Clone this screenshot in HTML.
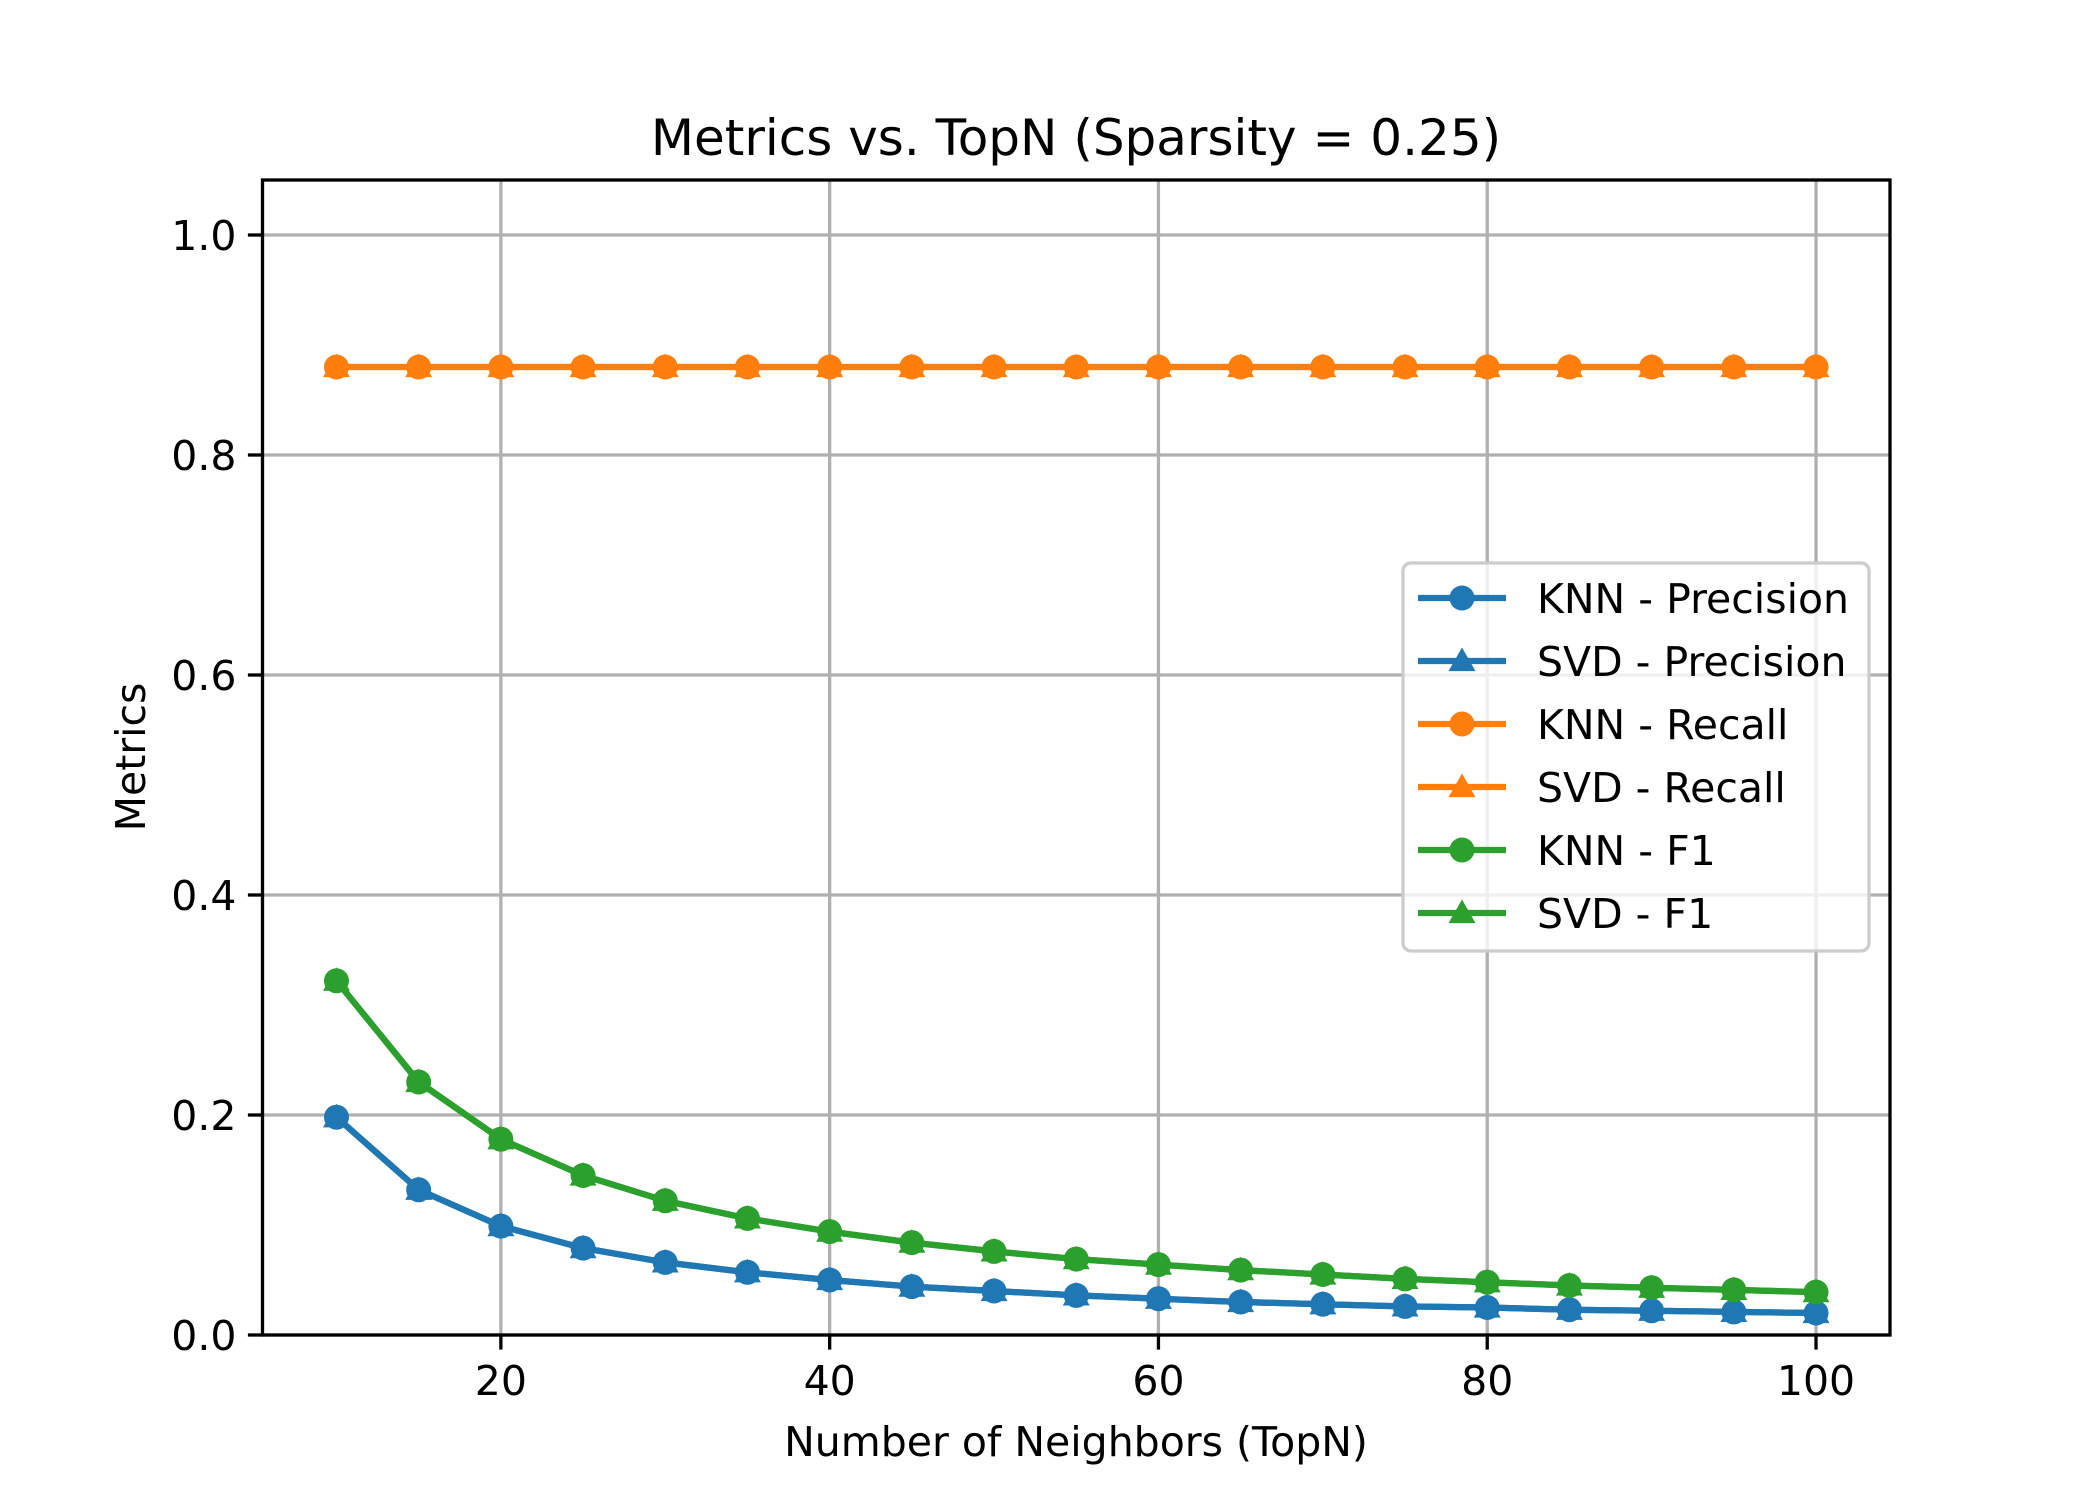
<!DOCTYPE html>
<html><head><meta charset="utf-8"><style>body{margin:0;background:#fff}svg{display:block}text{font-family:"DejaVu Sans","Liberation Sans",sans-serif}</style></head>
<body>
<svg id="chart" width="2100" height="1500" xmlns="http://www.w3.org/2000/svg">
<rect width="2100" height="1500" fill="#fff"/>
<g id="grid"></g><g id="series"></g><g id="axes"></g><g id="legend"></g>
<text x="1076" y="155" font-size="50" text-anchor="middle">Metrics vs. TopN (Sparsity = 0.25)</text>
<text x="1076" y="1456" font-size="41" text-anchor="middle">Number of Neighbors (TopN)</text>
<text transform="translate(145,757) rotate(-90)" font-size="41" text-anchor="middle">Metrics</text>
</svg>
<script>
const topN=[10,15,20,25,30,35,40,45,50,55,60,65,70,75,80,85,90,95,100];
const knnPrecision=[0.198,0.132,0.099,0.079,0.066,0.057,0.050,0.044,0.040,0.036,0.033,0.030,0.028,0.026,0.025,0.023,0.022,0.021,0.020];
const svdPrecision=[0.198,0.132,0.099,0.079,0.066,0.057,0.050,0.044,0.040,0.036,0.033,0.030,0.028,0.026,0.025,0.023,0.022,0.021,0.020];
const knnRecall=[0.88,0.88,0.88,0.88,0.88,0.88,0.88,0.88,0.88,0.88,0.88,0.88,0.88,0.88,0.88,0.88,0.88,0.88,0.88];
const svdRecall=[0.88,0.88,0.88,0.88,0.88,0.88,0.88,0.88,0.88,0.88,0.88,0.88,0.88,0.88,0.88,0.88,0.88,0.88,0.88];
const knnF1=[0.322,0.230,0.178,0.145,0.122,0.106,0.094,0.084,0.076,0.069,0.064,0.059,0.055,0.051,0.048,0.045,0.043,0.041,0.039];
const svdF1=[0.322,0.230,0.178,0.145,0.122,0.106,0.094,0.084,0.076,0.069,0.064,0.059,0.055,0.051,0.048,0.045,0.043,0.041,0.039];
const xTicks=[20,40,60,80,100];
const yTicks=[0.0,0.2,0.4,0.6,0.8,1.0];
const seriesNames=["KNN - Precision","SVD - Precision","KNN - Recall","SVD - Recall","KNN - F1","SVD - F1"];
const L=262.5,R=1890,T=180,B=1335,xmin=5.5,xmax=104.5,ymin=0,ymax=1.05;
const sx=v=>L+(v-xmin)/(xmax-xmin)*(R-L);
const sy=v=>B-(v-ymin)/(ymax-ymin)*(B-T);
const NS="http://www.w3.org/2000/svg";
function mk(tag,attrs,parent){const e=document.createElementNS(NS,tag);for(const k in attrs)e.setAttribute(k,attrs[k]);parent.appendChild(e);return e;}
const grid=document.getElementById('grid'),axes=document.getElementById('axes'),ser=document.getElementById('series'),leg=document.getElementById('legend');
xTicks.forEach(t=>{const x=sx(t);
 let g=mk('line',{x1:x,x2:x,y1:T,y2:B,stroke:'#b0b0b0','stroke-width':3.3},grid);
 
 let k=mk('line',{x1:x,x2:x,y1:B,y2:B+14.6,stroke:'#000','stroke-width':3.3},axes);
 
 let tx=mk('text',{x:x,y:B+60,'font-size':41,'text-anchor':'middle'},axes);tx.textContent=t;
 });
yTicks.forEach(t=>{const y=sy(t);
 let g=mk('line',{x1:L,x2:R,y1:y,y2:y,stroke:'#b0b0b0','stroke-width':3.3},grid);
 
 let k=mk('line',{x1:L-14.6,x2:L,y1:y,y2:y,stroke:'#000','stroke-width':3.3},axes);
 
 let tx=mk('text',{x:L-26,y:y+15,'font-size':41,'text-anchor':'end'},axes);tx.textContent=t.toFixed(1);
 });
let fr=mk('rect',{x:L,y:T,width:R-L,height:B-T,fill:'none',stroke:'#000','stroke-width':3.3},axes);

function marker(type,x,y,c,parent){
 if(type==='o')return mk('circle',{cx:x,cy:y,r:12.5,fill:c},parent);
 const s=13.5;return mk('polygon',{points:`${x},${y-s} ${x+s},${y+s*0.75} ${x-s},${y+s*0.75}`,fill:c},parent);}
const all=[[knnPrecision,'#1f77b4','o'],[svdPrecision,'#1f77b4','^'],[knnRecall,'#ff7f0e','o'],[svdRecall,'#ff7f0e','^'],[knnF1,'#2ca02c','o'],[svdF1,'#2ca02c','^']];
all.forEach(([vals,c,m],i)=>{
 const g=mk('g',{},ser);
 const p=mk('polyline',{points:topN.map((x,j)=>sx(x)+','+sy(vals[j])).join(' '),fill:'none',stroke:c,'stroke-width':6.25,'stroke-linejoin':'round'},g);
 
 topN.forEach((x,j)=>{const mm=marker(m,sx(x),sy(vals[j]),c,g);
  });
});
let lb=mk('rect',{x:1403,y:563,width:466,height:388,rx:8,fill:'#fff','fill-opacity':0.8,stroke:'#cccccc','stroke-width':3.3},leg);

all.forEach(([v,c,m],i)=>{const y=598+i*63;
 const g=mk('g',{},leg);
 mk('line',{x1:1418,x2:1506,y1:y,y2:y,stroke:c,'stroke-width':6.25},g);
 marker(m,1462,y,c,g);
 const t=mk('text',{x:1537,y:y+15,'font-size':41},g);t.textContent=seriesNames[i];});
</script>
</body></html>
